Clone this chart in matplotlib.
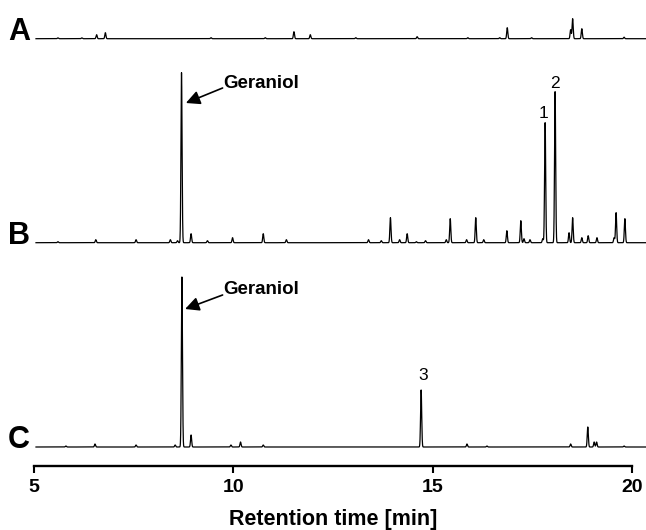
import numpy as np
import matplotlib
matplotlib.use("Agg")
import matplotlib.pyplot as plt
from matplotlib.transforms import blended_transform_factory

plt.rcParams['font.family'] = ['Liberation Sans', 'DejaVu Sans']

# ---- data: (retention time [min], peak height [relative units]) ----
peaks_A_rt = [5.6, 6.20, 6.57, 6.79, 9.44, 10.80, 11.52, 11.93, 13.07, 14.61, 15.88,
              16.68, 16.87, 17.48, 18.46, 18.51, 18.74, 19.80]
peaks_A_h = [0.8, 0.8, 4, 6, 1, 1, 7, 4, 1, 2, 1,
             1, 11, 1, 9, 20, 10, 1.5]

peaks_B_rt = [5.6, 6.55, 7.56, 8.42, 8.60, 8.70, 8.94, 9.35, 9.98, 10.75, 11.33,
              13.39, 13.71, 13.94, 14.17, 14.36, 14.59, 14.82, 15.34, 15.44, 15.85,
              16.08, 16.28, 16.86, 17.21, 17.29, 17.44, 17.76, 17.82, 18.07, 18.42,
              18.51, 18.74, 18.90, 19.12, 19.55, 19.60, 19.82]
peaks_B_h = [1, 3, 3, 3, 2, 170, 9, 2, 5, 9, 3,
             3, 2, 25, 3, 9, 1, 2, 3, 24, 3,
             25, 3, 12, 22, 4, 3, 4, 120, 151, 10,
             25, 5, 7, 5, 5, 30, 24]

peaks_C_rt = [5.8, 6.53, 7.56, 8.54, 8.71, 8.94, 9.94, 10.18, 10.75, 14.71, 15.86,
              16.36, 18.46, 18.89, 19.05, 19.11, 19.80]
peaks_C_h = [1, 3, 2, 2, 170, 12, 2, 5, 2, 57, 3,
             1, 3, 20, 5, 5, 1]

trace_labels = ['A', 'B', 'C']
x_ticks = [5, 10, 15, 20]
x_label = 'Retention time [min]'

# ---- build traces ----
t = np.arange(5.05, 20.35, 0.002)


def chromatogram(rts, hs, sigma=0.014):
    y = np.zeros_like(t)
    for r, h in zip(rts, hs):
        y += h * np.exp(-0.5 * ((t - r) / sigma) ** 2)
    return y


traces = [chromatogram(peaks_A_rt, peaks_A_h),
          chromatogram(peaks_B_rt, peaks_B_h),
          chromatogram(peaks_C_rt, peaks_C_h)]
offsets = [427.3, 223.3, 19.0]

fig = plt.figure(figsize=(6.46, 5.30), dpi=100)
ax = fig.add_axes([0, 64 / 530, 1, 466 / 530])
px = 39.87
ax.set_xlim(5 - 34 / px, 5 + 612 / px)
ax.set_ylim(0, 466)

for y, off in zip(traces, offsets):
    ax.plot(t, y + off, color='black', lw=0.9)

trans = blended_transform_factory(ax.transAxes, ax.transData)
for lab, off in zip(trace_labels, offsets):
    ax.text(8 / 646, off - 1, lab, transform=trans, ha='left', va='baseline',
            fontsize=22, fontweight='bold')

# annotations
arrow = dict(arrowstyle='-|>', mutation_scale=21, lw=1.2, color='black',
             shrinkA=0, shrinkB=0)
ax.annotate('', xy=(8.81, 363), xytext=(9.73, 378), arrowprops=arrow)
ax.text(9.74, 382, 'Geraniol', ha='left', va='center', fontsize=13.5, fontweight='bold')
ax.annotate('', xy=(8.79, 157), xytext=(9.73, 171), arrowprops=arrow)
ax.text(9.74, 176, 'Geraniol', ha='left', va='center', fontsize=13.5, fontweight='bold')

ax.text(17.79, 353, '1', ha='center', va='center', fontsize=12.5)
ax.text(18.07, 383, '2', ha='center', va='center', fontsize=12.5)
ax.text(14.75, 91, '3', ha='center', va='center', fontsize=12.5)

# axes styling
for s in ['top', 'right', 'left']:
    ax.spines[s].set_visible(False)
ax.spines['bottom'].set_bounds(5, 20)
ax.spines['bottom'].set_linewidth(1.7)
ax.set_yticks([])
ax.set_xticks(x_ticks)
ax.set_xticklabels([str(v) for v in x_ticks])
ax.tick_params(axis='x', direction='out', length=5, width=1.5, pad=4,
               labelsize=14)
for lbl in ax.get_xticklabels():
    lbl.set_fontweight('bold')
ax.set_xlabel(x_label, fontsize=15.5, fontweight='bold')
ax.xaxis.set_label_coords(333 / 646, -0.092)

fig.savefig('out.png', dpi=100)
